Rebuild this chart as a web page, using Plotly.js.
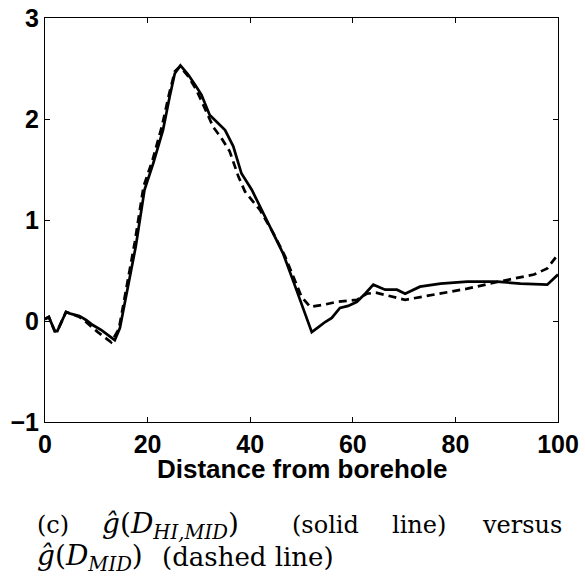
<!DOCTYPE html>
<html>
<head>
<meta charset="utf-8">
<script src="https://cdn.plot.ly/plotly-3.0.1.min.js"></script>
<style>html,body{margin:0;padding:0;background:#fff;}#chart{width:585px;height:579px;}</style>
</head>
<body>
<div id="chart"></div>
<script>
// Solid line: g-hat(D_HI,MID)
var solidX = [0, 0.75, 1.9, 2.4, 4.1, 5.1, 6.7, 8.0, 9.3, 11.0, 13.6, 14.6, 17.7, 19.4, 21.1, 23.0, 24.3, 25.3, 26.4, 27.9, 29.5, 30.5, 32.1, 35.1, 36.7, 38.3, 40.3, 42.2, 44.5, 46.4, 48.5, 50.7, 52.0, 53.3, 54.6, 55.9, 57.5, 59.1, 60.8, 62.4, 64.0, 66.3, 68.6, 70.2, 73.1, 77.1, 82.3, 88.1, 92.7, 97.9, 100];
var solidY = [0.02, 0.04, -0.10, -0.10, 0.09, 0.07, 0.05, 0.01, -0.04, -0.09, -0.19, -0.07, 0.74, 1.30, 1.56, 1.89, 2.22, 2.45, 2.53, 2.44, 2.32, 2.24, 2.04, 1.89, 1.73, 1.46, 1.30, 1.10, 0.87, 0.67, 0.38, 0.08, -0.11, -0.06, -0.01, 0.03, 0.13, 0.15, 0.19, 0.27, 0.36, 0.31, 0.31, 0.27, 0.34, 0.37, 0.39, 0.39, 0.37, 0.36, 0.46];

// Dashed line: g-hat(D_MID)
var dashedX = [0, 0.75, 1.9, 2.4, 4.1, 5.1, 6.7, 8.0, 10.3, 12.9, 14.4, 17.5, 19.2, 21.0, 22.8, 24.2, 25.3, 26.3, 27.8, 29.5, 31.5, 32.8, 34.4, 36.0, 37.7, 39.0, 40.6, 41.9, 44.5, 46.8, 48.4, 50.0, 51.7, 54.3, 56.9, 60.8, 62.7, 64.5, 70.2, 76.6, 82.3, 88.5, 95.3, 97.9, 100];
var dashedY = [0.02, 0.04, -0.10, -0.10, 0.09, 0.07, 0.04, -0.01, -0.11, -0.21, -0.08, 0.78, 1.33, 1.60, 1.93, 2.25, 2.47, 2.52, 2.43, 2.29, 2.06, 1.92, 1.81, 1.68, 1.43, 1.28, 1.18, 1.10, 0.87, 0.64, 0.44, 0.24, 0.14, 0.16, 0.19, 0.21, 0.27, 0.28, 0.21, 0.27, 0.32, 0.39, 0.46, 0.52, 0.66];

var xTicks = [0, 20, 40, 60, 80, 100];
var yTicks = [-1, 0, 1, 2, 3];
var xTitle = "Distance from borehole";
var captionLine1 = ["(c)", "<i>ĝ</i>(<i>D</i><sub><i>HI,MID</i></sub>)", "(solid", "line)", "versus"];
var captionLine2 = ["<i>ĝ</i>(<i>D</i><sub><i>MID</i></sub>)", "(dashed line)"];

var W = 585, H = 579;
var L = 45.5, R = 557.5, T = 18, B = 422;
function px2paperX(px){ return (px - L) / (R - L); }
function px2paperY(py){ return (B - py) / (B - T); }

var traces = [
  {x: solidX, y: solidY, type: 'scatter', mode: 'lines', line: {color: '#000', width: 2.7}, hoverinfo: 'skip'},
  {x: dashedX, y: dashedY, type: 'scatter', mode: 'lines', line: {color: '#000', width: 2.7, dash: '8px,5px'}, hoverinfo: 'skip'}
];

var capFont = {family: 'DejaVu Serif', size: 24, color: '#000'};
var capFont2 = {family: 'DejaVu Serif', size: 26, color: '#000'};
var mathFont = {family: 'DejaVu Serif', size: 28, color: '#000'};
var line1Left = [36, 100, 290, 390, 480];
var line2Left = [36, 160];
var annotations = [];
captionLine1.forEach(function(t, i){
  annotations.push({text: t, xref: 'paper', yref: 'paper', x: px2paperX(line1Left[i]), y: px2paperY(525),
          xanchor: 'left', yanchor: 'middle', showarrow: false, font: (i === 1 ? mathFont : capFont)});
});
captionLine2.forEach(function(t, i){
  annotations.push({text: t, xref: 'paper', yref: 'paper', x: px2paperX(line2Left[i]), y: px2paperY(557),
          xanchor: 'left', yanchor: 'middle', showarrow: false, font: (i === 0 ? mathFont : capFont2)});
});
annotations.push({text: '<b>' + xTitle + '</b>', xref: 'paper', yref: 'paper', x: 0.5, y: px2paperY(469),
          xanchor: 'center', yanchor: 'middle', showarrow: false,
          font: {family: 'Liberation Sans', size: 26, color: '#000'}});

var axFont = {family: 'Liberation Sans', size: 25, color: '#000', weight: 'bold'};
var layout = {
  width: W, height: H,
  margin: {l: 45, r: 27, t: 18, b: 157, pad: 0},
  paper_bgcolor: '#fff', plot_bgcolor: '#fff',
  showlegend: false,
  xaxis: {
    range: [0, 100], tickvals: xTicks, ticktext: xTicks.map(String),
    ticks: 'inside', ticklen: 5, tickwidth: 1, tickcolor: '#000',
    showline: true, linecolor: '#000', linewidth: 1, mirror: 'ticks',
    showgrid: false, zeroline: false,
    tickfont: axFont
  },
  yaxis: {
    range: [-1, 3], tickvals: yTicks, ticktext: yTicks.map(function(v){ return v < 0 ? '\u2212' + Math.abs(v) : String(v); }),
    ticks: 'inside', ticklen: 5, tickwidth: 1, tickcolor: '#000',
    showline: true, linecolor: '#000', linewidth: 1, mirror: 'ticks',
    showgrid: false, zeroline: false,
    tickfont: axFont
  },
  annotations: annotations
};

Plotly.newPlot('chart', traces, layout, {displayModeBar: false, staticPlot: true});
</script>
</body>
</html>
